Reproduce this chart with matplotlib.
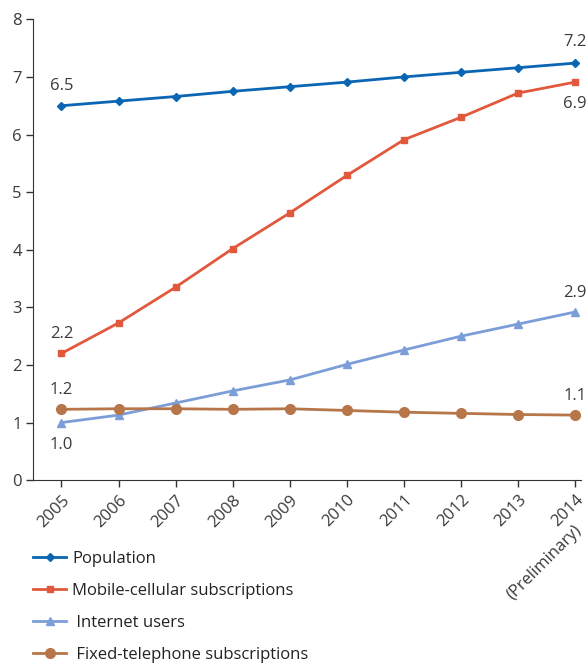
import numpy as np
import matplotlib.pyplot as plt

plt.rcParams['font.family'] = ['Open Sans', 'DejaVu Sans']

years = [2005, 2006, 2007, 2008, 2009, 2010, 2011, 2012, 2013, 2014]
year_labels = ["2005", "2006", "2007", "2008", "2009", "2010", "2011", "2012",
               "2013", "2014"]

population = [6.50, 6.58, 6.66, 6.75, 6.83, 6.91, 7.00, 7.08, 7.16, 7.24]
mobile = [2.20, 2.73, 3.35, 4.02, 4.64, 5.29, 5.91, 6.30, 6.72, 6.91]
internet = [1.00, 1.13, 1.34, 1.55, 1.74, 2.01, 2.26, 2.50, 2.71, 2.92]
fixed = [1.23, 1.24, 1.24, 1.23, 1.24, 1.21, 1.18, 1.16, 1.14, 1.13]

txt = "#3a3a3a"
fs = 12
fig = plt.figure(figsize=(5.88, 6.66), dpi=100)
ax = fig.add_axes([0.056, 0.279, 0.932, 0.692])

l1, = ax.plot(years, population, color="#0a66b2", lw=2.0, marker="D", ms=4.5, label="Population")
l2, = ax.plot(years, mobile, color="#e2583c", lw=2.0, marker="s", ms=5, label="Mobile-cellular subscriptions")
l3, = ax.plot(years, internet, color="#7b9ed8", lw=2.0, marker="^", ms=5.5, label=" Internet users")
l4, = ax.plot(years, fixed, color="#b7764a", lw=2.0, marker="o", ms=7, label=" Fixed-telephone subscriptions")

# value labels at the ends
def lab(x, y, s, dy):
    ax.annotate(s, (x, y), xytext=(0, dy), textcoords="offset points",
                ha="center", va="center", fontsize=fs, color=txt)

lab(2005, population[0], "6.5", 14)
lab(2014, population[-1], "7.2", 15)
lab(2014, mobile[-1], "6.9", -16)
lab(2005, mobile[0], "2.2", 14)
lab(2014, internet[-1], "2.9", 14)
lab(2005, fixed[0], "1.2", 14)
lab(2005, internet[0], "1.0", -16)
lab(2014, fixed[-1], "1.1", 14)

ax.set_xlim(2004.5, 2014.1)
ax.set_ylim(0, 8)
ax.set_yticks(range(0, 9))
ax.set_xticks(years)
ax.set_xticklabels(year_labels, rotation=45, ha="right", rotation_mode="anchor")
ax.tick_params(axis="both", labelsize=fs, labelcolor=txt, color="#333333",
               length=5, width=1)
ax.tick_params(axis="y", pad=3)
for s in ["top", "right"]:
    ax.spines[s].set_visible(False)
for s in ["left", "bottom"]:
    ax.spines[s].set_color("#333333")

# second line of the last tick label
ax.annotate("(Preliminary)", (2014, 0), xytext=(-22, -59), textcoords="offset points",
            ha="center", va="center", rotation=45, fontsize=fs, color=txt,
            annotation_clip=False)

fig.legend(handles=[l1, l2, l3, l4], loc="upper left", bbox_to_anchor=(0.045, 0.183),
           frameon=False, fontsize=fs, labelspacing=0.96, handlelength=2.0,
           handletextpad=0.36, borderaxespad=0, labelcolor="#222222")

fig.savefig("out.png", dpi=100)
